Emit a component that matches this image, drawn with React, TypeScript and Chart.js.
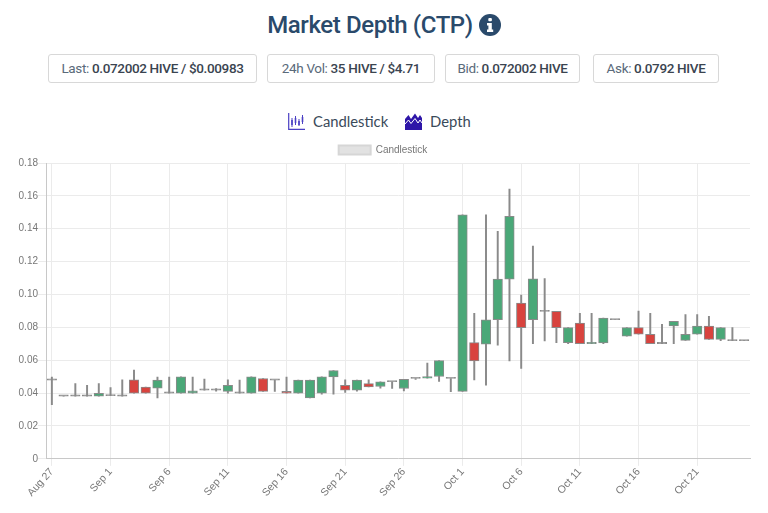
import React, { useEffect, useRef } from "react";
import { Chart, registerables } from "chart.js";

Chart.register(...registerables);

const days: string[] = [
  "Aug 27","Aug 28","Aug 29","Aug 30","Aug 31",
  "Sep 1","Sep 2","Sep 3","Sep 4","Sep 5","Sep 6","Sep 7","Sep 8","Sep 9","Sep 10",
  "Sep 11","Sep 12","Sep 13","Sep 14","Sep 15","Sep 16","Sep 17","Sep 18","Sep 19","Sep 20",
  "Sep 21","Sep 22","Sep 23","Sep 24","Sep 25","Sep 26","Sep 27","Sep 28","Sep 29","Sep 30",
  "Oct 1","Oct 2","Oct 3","Oct 4","Oct 5","Oct 6","Oct 7","Oct 8","Oct 9","Oct 10",
  "Oct 11","Oct 12","Oct 13","Oct 14","Oct 15","Oct 16","Oct 17","Oct 18","Oct 19","Oct 20",
  "Oct 21","Oct 22","Oct 23","Oct 24","Oct 25",
];
const bodyLow: number[] = [
  0.0479,0.0382,0.0382,0.0382,0.0382,
  0.0384,0.0382,0.04,0.04,0.043,0.04,0.04,0.04,0.0418,0.0418,
  0.041,0.04,0.04,0.041,0.0479,0.04,0.04,0.037,0.04,0.0499,
  0.0418,0.0418,0.0438,0.044,0.0469,0.0428,0.0489,0.0491,0.0501,0.0489,
  0.041,0.0596,0.0697,0.0846,0.1093,0.0798,0.0846,0.0897,0.0798,0.0707,
  0.0701,0.0701,0.0705,0.0846,0.0747,0.0758,0.0701,0.0701,0.0808,0.0721,
  0.0758,0.0727,0.0727,0.0719,0.0719,
];
const bodyHigh: number[] = [
  0.0479,0.0382,0.0382,0.0382,0.0398,
  0.0384,0.0382,0.048,0.0436,0.0479,0.04,0.0499,0.0414,0.0418,0.0418,
  0.0448,0.04,0.0499,0.0489,0.0479,0.041,0.0479,0.0479,0.0499,0.0537,
  0.0448,0.0479,0.0458,0.0469,0.0469,0.0483,0.0489,0.0501,0.0598,0.0489,
  0.1485,0.0707,0.0846,0.1093,0.1475,0.0947,0.1095,0.0897,0.0897,0.0798,
  0.0826,0.0707,0.0857,0.0846,0.0798,0.0798,0.0758,0.0701,0.0836,0.0758,
  0.0808,0.0808,0.0798,0.0719,0.0719,
];
const wickLow: number[] = [
  0.033,0.0382,0.0382,0.0382,0.0382,
  0.0384,0.0382,0.04,0.04,0.037,0.04,0.04,0.04,0.0418,0.0412,
  0.04,0.04,0.04,0.041,0.041,0.04,0.04,0.037,0.0394,0.0394,
  0.0404,0.0412,0.0438,0.043,0.0428,0.0414,0.0483,0.0491,0.0471,0.0408,
  0.041,0.048,0.0448,0.0691,0.0596,0.055,0.0701,0.0717,0.0707,0.0701,
  0.0701,0.0701,0.0701,0.0846,0.0747,0.0758,0.0701,0.0701,0.0701,0.0721,
  0.0758,0.0727,0.0719,0.0719,0.0719,
];
const wickHigh: number[] = [
  0.0497,0.0382,0.0458,0.0448,0.0458,
  0.0434,0.048,0.054,0.0436,0.0497,0.0497,0.0499,0.0497,0.0485,0.0428,
  0.048,0.0479,0.0499,0.0489,0.0479,0.0497,0.0479,0.0479,0.0499,0.0537,
  0.048,0.0479,0.048,0.0469,0.0469,0.0483,0.0489,0.0582,0.0598,0.0489,
  0.1485,0.0885,0.1485,0.1384,0.1642,0.0996,0.1295,0.1097,0.0897,0.0798,
  0.0885,0.0885,0.0857,0.0846,0.0798,0.0899,0.0885,0.0818,0.0836,0.0877,
  0.0877,0.0867,0.0798,0.0798,0.0719,
];
const isRed: number[] = [
  0,0,0,0,0,
  0,0,1,1,0,0,0,0,0,0,
  0,0,0,1,0,1,0,0,0,0,
  1,0,1,0,0,0,0,0,0,0,
  0,1,0,0,0,1,0,0,1,0,
  1,0,0,0,0,1,1,0,0,0,
  0,1,0,0,0,
];
const yTicks: number[] = [0, 0.02, 0.04, 0.06, 0.08, 0.1, 0.12, 0.14, 0.16, 0.18];

const GREEN = "#4aa878";
const RED = "#d8433e";
const OUTLINE = "#8a8a8a";
const NAVY = "#2a4a6b";
const FONT = "Roboto, sans-serif";
const CHART_FONT = "'Liberation Sans', Arial, sans-serif";

const stats: [string, string][] = [
  ["Last:", "0.072002 HIVE / $0.00983"],
  ["24h Vol:", "35 HIVE / $4.71"],
  ["Bid:", "0.072002 HIVE"],
  ["Ask:", "0.0792 HIVE"],
];
const statLefts = [48, 267, 445, 593];
const statWidths = [209, 168, 135, 126];

const tightLegend = {
  id: "tightLegend",
  beforeLayout(chart: any) {
    const legend = chart.legend;
    if (!legend || legend.__tight) return;
    const fit = legend.fit;
    legend.fit = function () {
      fit.call(this);
      this.height -= 2;
    };
    legend.__tight = true;
  },
};

function CandleIcon() {
  return (
    <svg width="17" height="17" viewBox="0 0 17 17" style={{ position: "absolute", left: 288, top: 113 }}>
      <path d="M.7 0V16.3H17" fill="none" stroke="#4a3fc4" strokeWidth="1.2" />
      <path d="M4 5V14M7.5 3V12M11 6V13M14.5 2V11" stroke="#4a3fc4" strokeWidth="1" />
      <path d="M3.2 7H4.8V12H3.2ZM6.7 5H8.3V10H6.7ZM10.2 8H11.8V12H10.2ZM13.7 4H15.3V9H13.7Z" fill="#4a3fc4" />
    </svg>
  );
}

function DepthIcon() {
  return (
    <svg width="17" height="17" viewBox="0 0 17 17" style={{ position: "absolute", left: 405, top: 113 }}>
      <path d="M0 6L3.5 2L6 6L10 0.5L13 5L15 2L17 5V17H0Z" fill="#2e16a8" />
      <path d="M0 11L3.5 7L6 10.5L10 5.5L13 10L15 7L17 10" fill="none" stroke="#fff" strokeWidth="1" />
    </svg>
  );
}

export default function App() {
  const ref = useRef<HTMLCanvasElement>(null);

  useEffect(() => {
    if (!ref.current) return;
    const chart = new Chart(ref.current, {
      type: "bar",
      plugins: [tightLegend],
      data: {
        labels: days,
        datasets: [
          {
            label: "Wick",
            data: days.map((_, i) => [wickLow[i], wickHigh[i]]),
            backgroundColor: OUTLINE,
            borderWidth: 0,
            barThickness: 1.3,
            order: 2,
          },
          {
            label: "Candlestick",
            data: days.map((_, i) => [bodyLow[i], bodyHigh[i]]),
            backgroundColor: days.map((_, i) =>
              bodyLow[i] === bodyHigh[i] ? OUTLINE : isRed[i] ? RED : GREEN
            ),
            borderColor: OUTLINE,
            borderWidth: 1,
            borderSkipped: false,
            barThickness: 9.5,
            minBarLength: 1.2,
            order: 1,
          },
        ] as any,
      },
      options: {
        animation: false,
        responsive: false,
        maintainAspectRatio: false,
        layout: { padding: { left: 16, right: 26, top: 5, bottom: 0 } },
        plugins: {
          tooltip: { enabled: false },
          legend: {
            display: true,
            position: "top",
            labels: {
              boxWidth: 32,
              boxHeight: 9,
              font: { family: CHART_FONT, size: 10 },
              color: "#777",
              padding: 2,
              generateLabels: () => [
                {
                  text: "Candlestick",
                  fillStyle: "#e2e2e2",
                  strokeStyle: "#d6d6d6",
                  lineWidth: 2,
                  hidden: false,
                  datasetIndex: 1,
                  fontColor: "#777",
                } as any,
              ],
            },
          },
        },
        scales: {
          x: {
            stacked: true,
            grid: { offset: false, color: "#ebebeb", tickLength: 7 },
            border: { color: "#c8c8c8" },
            afterBuildTicks: (axis: any) => {
              axis.ticks = axis.ticks.filter((_: any, i: number) => i % 5 === 0);
            },
            ticks: {
              autoSkip: false,
              maxRotation: 48,
              minRotation: 48,
              padding: 0,
              color: "#777",
              font: { family: CHART_FONT, size: 10.5 },
            },
          },
          y: {
            stacked: false,
            min: 0,
            max: 0.18,
            grid: { color: "#ebebeb", tickLength: 8 },
            border: { color: "#c8c8c8" },
            afterBuildTicks: (axis: any) => {
              axis.ticks = yTicks.map((value) => ({ value }));
            },
            afterFit: (axis: any) => {
              axis.width = 30;
            },
            ticks: {
              padding: 0,
              color: "#777",
              font: { family: CHART_FONT, size: 10 },
              callback: (v: any) => (v === 0 ? "0" : Number(v).toFixed(2)),
            },
          },
        },
      } as any,
    });
    return () => chart.destroy();
  }, []);

  return (
    <div style={{ position: "absolute", left: 0, top: 0, width: 768, height: 513, fontFamily: FONT, overflow: "hidden", background: "#fff" }}>
      <div style={{ position: "absolute", left: 0, width: 768, top: 6, textAlign: "center", fontSize: 24, letterSpacing: -0.4, fontWeight: 500, color: NAVY, lineHeight: "38px" }}>
        Market Depth (CTP)
        <svg width="22" height="22" viewBox="0 0 22 22" style={{ marginLeft: 6, verticalAlign: "-3px" }}>
          <circle cx="11" cy="11" r="11" fill={NAVY} />
          <rect x="9.3" y="4" width="3.6" height="3.2" rx="1" fill="#fff" />
          <path d="M8 9H12.8V15.5H14.2V18H8V15.5H9.4V11.5H8Z" fill="#fff" />
        </svg>
      </div>
      {stats.map(([k, v], i) => (
        <div
          key={k}
          style={{
            position: "absolute",
            left: statLefts[i],
            top: 54,
            width: statWidths[i],
            height: 29,
            boxSizing: "border-box",
            border: "1px solid #d8d8d8",
            borderRadius: 3,
            textAlign: "center",
            fontSize: 13.5,
            letterSpacing: -0.35,
            lineHeight: "27px",
            color: "#5a6a7a",
            whiteSpace: "nowrap",
          }}
        >
          {k} <span style={{ fontWeight: 500, color: "#3a4450" }}>{v}</span>
        </div>
      ))}
      <CandleIcon />
      <div style={{ position: "absolute", left: 313, top: 111, fontFamily: "Lato, sans-serif", fontSize: 14.8, color: "#3a4a5a", lineHeight: "20px" }}>Candlestick</div>
      <DepthIcon />
      <div style={{ position: "absolute", left: 430, top: 111, fontFamily: "Lato, sans-serif", fontSize: 14.8, color: "#3a4a5a", lineHeight: "20px" }}>Depth</div>
      <canvas ref={ref} width={776} height={361} style={{ position: "absolute", left: 0, top: 138, display: "block" }} />
    </div>
  );
}
